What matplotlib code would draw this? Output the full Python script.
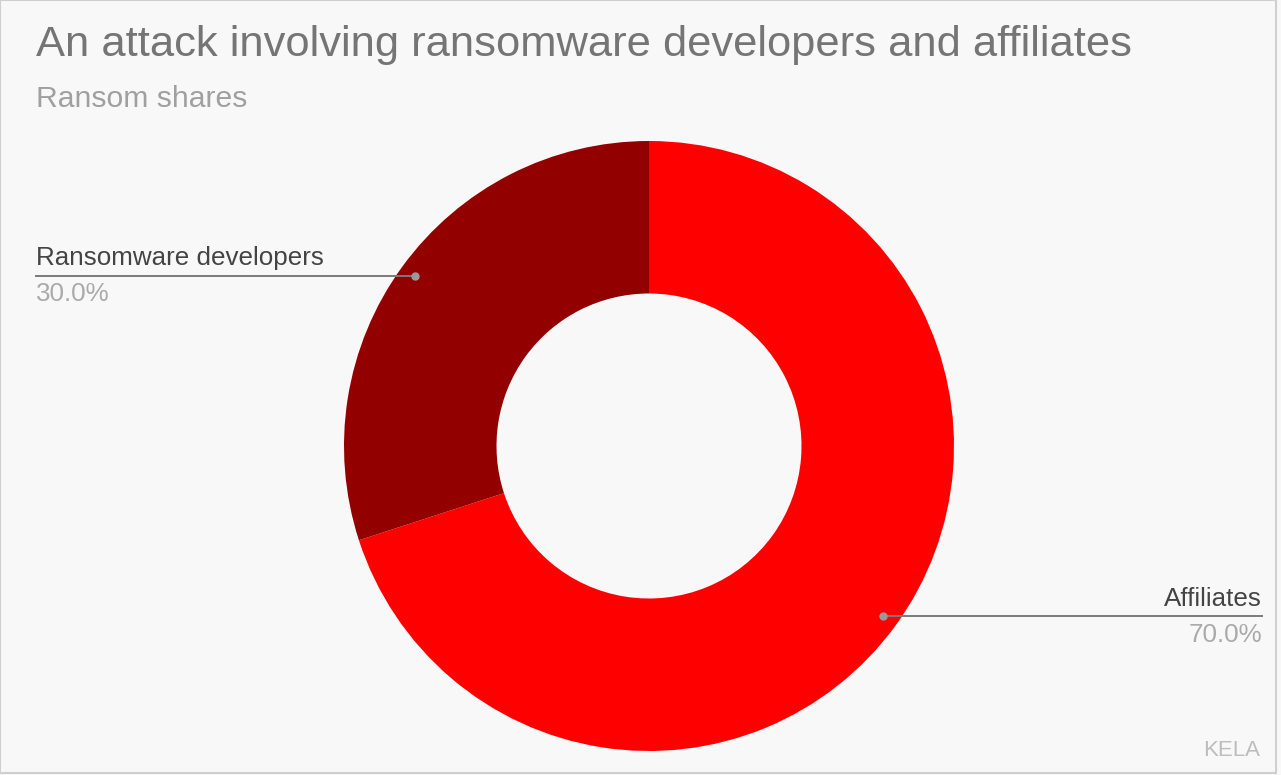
import numpy as np
import matplotlib.pyplot as plt
from matplotlib.patches import Rectangle

# data
labels = ['Affiliates', 'Ransomware developers']
shares = [70.0, 30.0]
colors = ['#ff0000', '#930000']

W, H = 1281, 775
fig = plt.figure(figsize=(W / 100, H / 100), dpi=100)
fig.patch.set_facecolor('#f8f8f8')
plt.rcParams['font.family'] = ['Liberation Sans', 'DejaVu Sans']

# donut axes: centre (649, 446) px, radius 305 px
cx, cy, R = 649, 446, 305
ax = fig.add_axes([(cx - R) / W, (H - cy - R) / H, 2 * R / W, 2 * R / H])
ax.set_facecolor('none')
wedges, _ = ax.pie(shares, colors=colors, startangle=90, counterclock=False,
                   radius=1.0, wedgeprops=dict(width=0.5, edgecolor='none'))
ax.set_xlim(-1, 1)
ax.set_ylim(-1, 1)
ax.set_aspect('equal')
ax.axis('off')

# leader lines + labels
def px_to_data(x):
    return (x - cx) / R

for w, lab, val in zip(wedges, labels, shares):
    mid = np.deg2rad((w.theta1 + w.theta2) / 2)
    dx, dy = 0.95 * np.cos(mid), 0.95 * np.sin(mid)
    if dx < 0:
        xend = px_to_data(36)
        ha = 'left'
    else:
        xend = px_to_data(1262)
        ha = 'right'
    ax.plot([dx, xend], [dy, dy], color='#7a7a7a', lw=1.4, clip_on=False)
    ax.plot(dx, dy, 'o', color='#9a9a9a', ms=5, clip_on=False)
    ax.text(xend, dy + 0.018, lab, ha=ha, va='bottom', fontsize=18.7,
            color='#444444', clip_on=False)
    ax.text(xend, dy - 0.022, f'{val:.1f}%', ha=ha, va='top', fontsize=18.7,
            color='#aaaaaa', clip_on=False)

fig.text(36 / W, 1 - 45 / H, 'An attack involving ransomware developers and affiliates',
         fontsize=31.3, color='#757575', ha='left', va='center')
fig.text(36 / W, 1 - 99 / H, 'Ransom shares', fontsize=21.7, color='#a0a0a0',
         ha='left', va='center')
fig.text(1260 / W, 1 - 750 / H, 'KELA', fontsize=16, color='#bdbdbd',
         ha='right', va='center')

# frame on right / bottom edges
fig.add_artist(Rectangle((0, 2 / H), 1 - 5 / W, 1 - 2 / H, transform=fig.transFigure,
                         fill=False, edgecolor='#cfcfcf', lw=1.5))

fig.savefig('out.png', dpi=100, facecolor=fig.get_facecolor())
